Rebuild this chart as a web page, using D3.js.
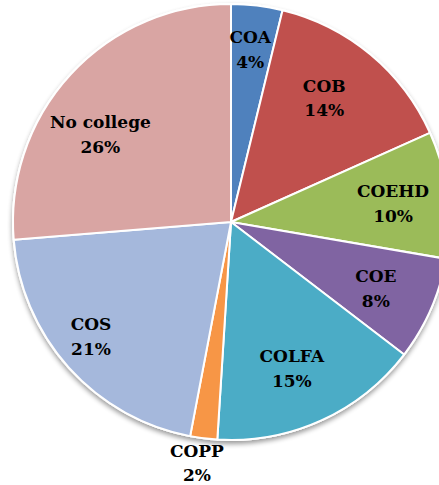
<html>
<head>
	<meta charset="utf-8">
	<title>college pie</title>
	<script src="https://cdn.jsdelivr.net/npm/d3@7/dist/d3.min.js"></script>
	<style>
		body {
			margin: 0;
			background: #fff;
		}
		.label {
			font-family: "DejaVu Serif", "Liberation Serif", serif;
			font-size: 17px;
			font-weight: 700;
			fill: #000;
		}
	</style>
</head>
<body>
	<svg id="chart"></svg>
</body>
<script>

//
// Data (clockwise from 12 o'clock)
//

var categories = ["COA", "COB", "COEHD", "COE", "COLFA", "COPP", "COS", "No college"];
var values = [3.8, 14.5, 9.4, 7.7, 15.6, 2.0, 20.7, 26.3];
var pctLabels = ["4%", "14%", "10%", "8%", "15%", "2%", "21%", "26%"];
var colors = ["#4f81bd", "#c0504d", "#9bbb59", "#8064a2", "#4bacc6", "#f79646", "#a5b8dc", "#d9a5a3"];

var width = 439;
var height = 485;
var cx = 231;
var cy = 222;
var radius = 218;

// label tweaks (Excel "best fit" placement), in px
var nudge = {
	"COA": [0, -15],
	"COB": [-10, -3],
	"COEHD": [2, -1],
	"COE": [-3, -1],
	"COLFA": [-6, -3],
	"COPP": [-4, 0],
	"COS": [-20, 4],
	"No college": [-12, 19]
};

var svg = d3.select("#chart")
	.attr("width", width)
	.attr("height", height);

// Soft shadow below the pie
var defs = svg.append("defs");
var filter = defs.append("filter")
	.attr("id", "shadow")
	.attr("x", "-10%").attr("y", "-10%")
	.attr("width", "120%").attr("height", "120%");
filter.append("feGaussianBlur")
	.attr("in", "SourceAlpha")
	.attr("stdDeviation", 2.5);
filter.append("feOffset")
	.attr("dx", 0)
	.attr("dy", 3)
	.attr("result", "blur");
filter.append("feComponentTransfer")
	.append("feFuncA").attr("type", "linear").attr("slope", 0.4);
var merge = filter.append("feMerge");
merge.append("feMergeNode");
merge.append("feMergeNode").attr("in", "SourceGraphic");

var g = svg.append("g")
	.attr("transform", "translate(" + cx + "," + cy + ")");

var pie = d3.pie()
	.sort(null)
	.value(function(d) { return d; });

var arcs = pie(values);

var arc = d3.arc()
	.innerRadius(0)
	.outerRadius(radius);

var labelArc = d3.arc()
	.innerRadius(radius * 0.74)
	.outerRadius(radius * 0.74);

var outerLabelArc = d3.arc()
	.innerRadius(radius * 1.1)
	.outerRadius(radius * 1.1);

// Pie with outline (shadowed)
g.append("circle")
	.attr("r", radius + 1)
	.attr("fill", "#fff")
	.attr("filter", "url(#shadow)");

g.selectAll(".slice")
	.data(arcs)
	.enter().append("path")
		.attr("class", "slice")
		.attr("d", arc)
		.attr("fill", function(d, i) { return colors[i]; })
		.attr("stroke", "#fff")
		.attr("stroke-width", 2)
		.attr("stroke-linejoin", "round");

// Labels
var labels = g.selectAll(".label")
	.data(arcs)
	.enter().append("text")
		.attr("class", "label")
		.attr("text-anchor", "middle")
		.attr("transform", function(d, i) {
			var name = categories[i];
			var p = (name === "COPP") ? outerLabelArc.centroid(d) : labelArc.centroid(d);
			var n = nudge[name];
			return "translate(" + (p[0] + n[0]) + "," + (p[1] + n[1]) + ")";
		});

labels.append("tspan")
	.attr("x", 0)
	.attr("dy", "-0.2em")
	.text(function(d, i) { return categories[i]; });

labels.append("tspan")
	.attr("x", 0)
	.attr("dy", "1.45em")
	.text(function(d, i) { return pctLabels[i]; });

</script>
</html>
